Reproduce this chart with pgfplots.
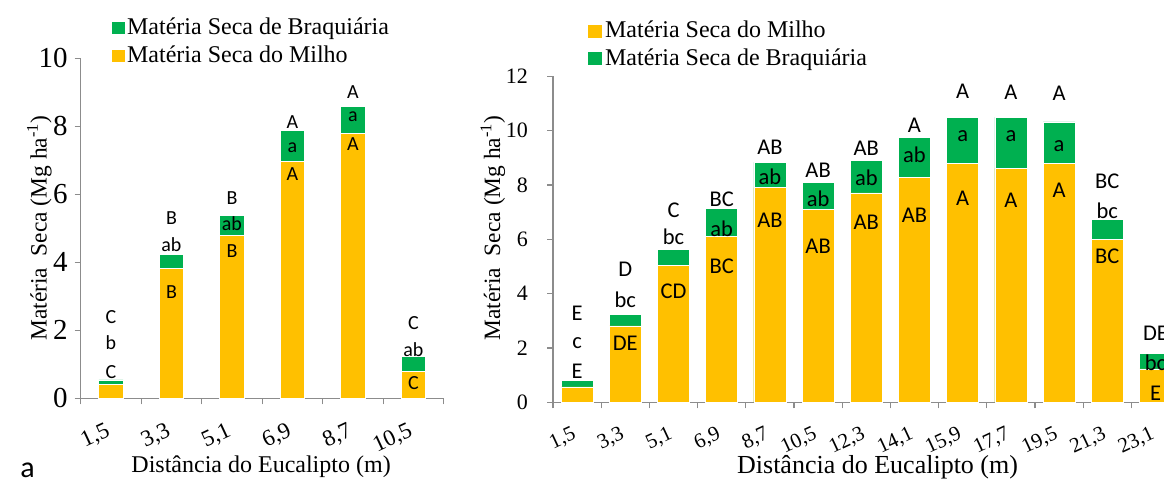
\documentclass[border=0pt]{standalone}
\usepackage{pgfplots}
\pgfplotsset{compat=1.18}
\usepackage{pgfplotstable}
\usepackage{fontspec}
\setmainfont{Liberation Serif}
\newfontfamily\calfont{Carlito}
\definecolor{milho}{HTML}{FFC000}
\definecolor{braq}{HTML}{00B050}
\definecolor{axgray}{HTML}{8C8C8C}

\pgfplotstableread{
x milho total
0 0.40 0.54
1 3.81 4.24
2 4.80 5.37
3 6.96 7.89
4 7.79 8.58
5 0.79 1.24
}\leftdata

\pgfplotstableread{
x y lab
0 0.77 C
0 1.63 b
0 2.39 C
1 3.11 B
1 4.51 ab
1 5.30 B
2 4.34 B
2 5.13 ab
2 5.89 B
3 6.60 A
3 7.36 a
3 8.11 A
4 7.48 A
4 8.27 a
4 9.02 A
5 0.45 C
5 1.42 ab
5 2.21 C
}\leftlabels

\pgfplotstableread{
x milho total
0 0.57 0.82
1 2.81 3.24
2 5.04 5.63
3 6.12 7.14
4 7.90 8.83
5 7.10 8.08
6 7.71 8.89
7 8.28 9.74
8 8.80 10.50
9 8.61 10.50
10 8.80 10.32
11 6.01 6.72
12 1.23 1.80
}\rightdata

\pgfplotstableread{
x y lab
0 1.13 E
0 2.17 c
0 3.28 E
1 2.17 DE
1 3.77 bc
1 4.90 D
2 4.10 CD
2 6.08 bc
2 7.08 C
3 5.02 BC
3 6.40 ab
3 7.48 BC
4 6.71 AB
4 8.30 ab
4 9.37 AB
5 5.73 AB
5 7.48 ab
5 8.55 AB
6 6.62 AB
6 8.28 ab
6 9.35 AB
7 6.87 AB
7 9.10 ab
7 10.21 A
8 7.51 A
8 9.80 a
8 11.43 A
9 7.45 A
9 9.78 a
9 11.42 A
10 7.79 A
10 9.43 a
10 11.37 A
11 5.38 BC
11 7.05 bc
11 8.12 BC
12 0.33 E
12 1.46 bc
12 2.54 DE
}\rightlabels

\pgfplotsset{
  mybase/.style={
    scale only axis,
    axis x line*=bottom,
    axis y line*=left,
    axis line style={axgray, line width=0.6pt},
    tick style={axgray, line width=0.6pt},
    tick align=outside,
    major tick length=3pt,
    minor tick length=3pt,
    major x tick style={draw=none},
    ymin=0,
    clip=false,
    /pgf/number format/assume math mode=true,
    legend cell align=left,
  },
}

\begin{document}
\begin{tikzpicture}
\useasboundingbox (0,0) rectangle (582pt,240.5pt);
\clip (0,0) rectangle (582pt,240.5pt);

% ---------- left chart ----------
\begin{axis}[mybase,
  at={(40.35pt,41.35pt)}, anchor=south west,
  width=181.5pt, height=170pt,
  xmin=-0.5, xmax=5.5, ymax=10,
  ytick={0,2,...,10},
  xtick={0,...,5},
  xticklabels={{1,5},{3,3},{5,1},{6,9},{8,7},{10,5}},
  minor xtick={-0.5,0.5,...,5.5},
  yticklabel style={font=\fontsize{14.5}{16}\selectfont, xshift=0pt},
  xticklabel style={font=\fontsize{11.5}{13}\selectfont, yshift=-11.5pt, xshift=2pt, rotate=25, anchor=east},
  xlabel={Distância do Eucalipto (m)},
  ylabel={Matéria~ Seca (Mg ha\textsuperscript{-1})},
  every axis x label/.style={at={(axis description cs:0.497,-0.202)}, anchor=center, font=\fontsize{12}{14}\selectfont},
  every axis y label/.style={at={(axis description cs:-0.114,0.501)}, anchor=center, rotate=90, font=\fontsize{11.7}{14}\selectfont},
  legend style={draw=none, fill=none, at={(axis description cs:0.086,1.048)}, anchor=west,
    font=\fontsize{12}{14}\selectfont, inner sep=0pt, row sep=1pt,
    nodes={inner sep=1.5pt}},
]
\addplot[ybar, bar width=12.2pt, bar shift=0pt, fill=braq, draw=white, line width=0.3pt,
  legend image code/.code={\fill[braq] (0pt,-2.8pt) rectangle (5.6pt,2.8pt);}]
  table[x=x, y=total]{\leftdata};
\addlegendentry{Matéria Seca de Braquiária}
\addplot[ybar, bar width=12.2pt, bar shift=0pt, fill=milho, draw=white, line width=0.3pt,
  legend image code/.code={\fill[milho] (0pt,-2.8pt) rectangle (5.6pt,2.8pt);}]
  table[x=x, y=milho]{\leftdata};
\addlegendentry{Matéria Seca do Milho}
\addplot[forget plot, only marks, mark=*, mark size=0pt, mark options={draw=none, fill=none},
  nodes near coords, point meta=explicit symbolic, nodes near coords align=center,
  every node near coord/.append style={font=\calfont\fontsize{10}{12}\selectfont, inner sep=0pt, text=black}]
  table[x=x, y=y, meta=lab]{\leftlabels};
\end{axis}

% ---------- right chart ----------
\begin{axis}[mybase,
  at={(276.5pt,39.35pt)}, anchor=south west,
  width=313.3pt, height=163pt,
  xmin=-0.5, xmax=12.5, ymax=12,
  ytick={0,2,...,12},
  xtick={0,...,12},
  xticklabels={{1,5},{3,3},{5,1},{6,9},{8,7},{10,5},{12,3},{14,1},{15,9},{17,7},{19,5},{21,3},{23,1}},
  minor xtick={-0.5,0.5,...,12.5},
  yticklabel style={font=\fontsize{11}{13}\selectfont, xshift=-6pt},
  xticklabel style={font=\fontsize{10.5}{12}\selectfont, yshift=-11pt, xshift=2pt, rotate=25, anchor=east},
  xlabel={Distância do Eucalipto (m)},
  ylabel={Matéria~ Seca (Mg ha\textsuperscript{-1})},
  every axis x label/.style={at={(axis description cs:0.518,-0.2)}, anchor=center, font=\fontsize{13}{15}\selectfont},
  every axis y label/.style={at={(axis description cs:-0.096,0.535)}, anchor=center, rotate=90, font=\fontsize{11.7}{14}\selectfont},
  legend style={draw=none, fill=none, at={(axis description cs:0.056,1.097)}, anchor=west,
    font=\fontsize{12}{14}\selectfont, inner sep=0pt, row sep=1pt,
    nodes={inner sep=1.5pt}},
]
\addplot[ybar, bar width=16pt, bar shift=0pt, fill=milho, draw=white, line width=0.3pt,
  legend image code/.code={\fill[milho] (0pt,-3pt) rectangle (6.5pt,3pt);}]
  table[x=x, y=milho]{\rightdata};
\addlegendentry{Matéria Seca do Milho}
\addplot[ybar, bar width=16pt, bar shift=0pt, fill=braq, draw=white, line width=0.3pt,
  legend image code/.code={\fill[braq] (0pt,-3pt) rectangle (6.5pt,3pt);}]
  table[x=x, y=total]{\rightdata};
\addlegendentry{Matéria Seca de Braquiária}
\addplot[ybar, bar width=16pt, bar shift=0pt, fill=milho, draw=white, line width=0.3pt, forget plot]
  table[x=x, y=milho]{\rightdata};
\addplot[forget plot, only marks, mark=*, mark size=0pt, mark options={draw=none, fill=none},
  nodes near coords, point meta=explicit symbolic, nodes near coords align=center,
  every node near coord/.append style={font=\calfont\fontsize{11.25}{13}\selectfont, inner sep=0pt, text=black}]
  table[x=x, y=y, meta=lab]{\rightlabels};
\end{axis}

\node[font=\calfont\fontsize{15}{17}\selectfont, inner sep=0pt] at (13.75pt,5.5pt) {a};
\end{tikzpicture}
\end{document}
